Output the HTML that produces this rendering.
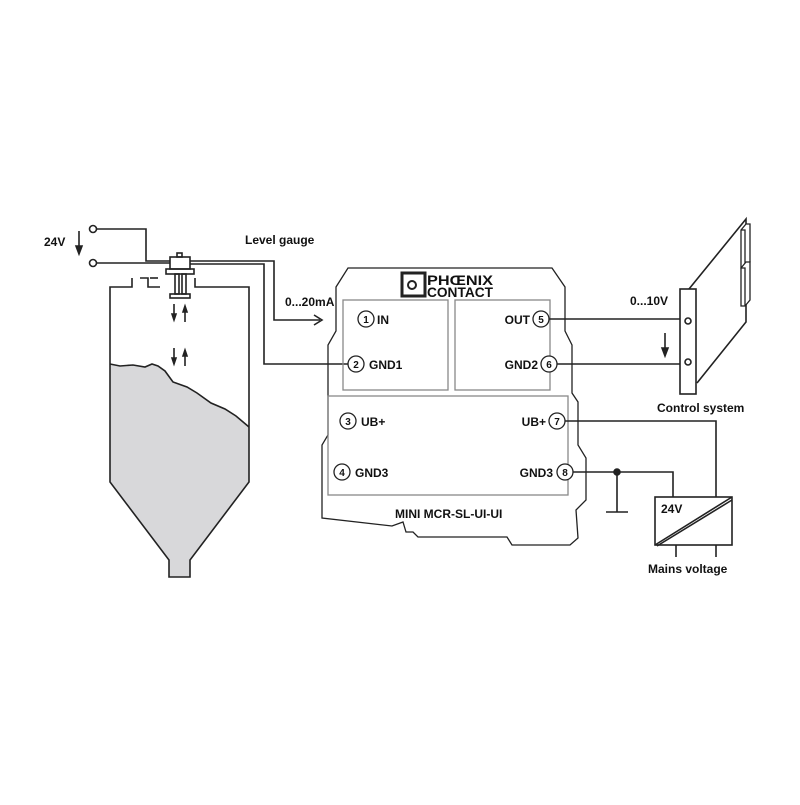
<!DOCTYPE html>
<html><head><style>
body{margin:0;background:#fff}
text{font-family:"Liberation Sans",Arial,sans-serif;font-weight:bold;fill:#111}
</style></head><body>
<svg width="800" height="800" viewBox="0 0 800 800" xmlns="http://www.w3.org/2000/svg">
<rect width="800" height="800" fill="#fff"/>
<g stroke="#222" stroke-width="1.6" fill="none">
<!-- 24V terminals -->
<circle cx="93" cy="229" r="3.5" fill="#fff"/>
<circle cx="93" cy="263" r="3.5" fill="#fff"/>
<path d="M97,229 H146 V261 H170"/>
<path d="M97,263 H170"/>
<path d="M79,231 V252"/><path d="M76,246 L79,254 L82,246 Z" fill="#222"/>
<!-- sensor -->
<rect x="170" y="257" width="20" height="12" fill="#fff"/>
<rect x="177" y="253" width="5" height="4"/>
<rect x="166" y="269" width="28" height="5"/>
<rect x="175" y="274" width="4" height="20"/><rect x="182" y="274" width="4" height="20"/>
<rect x="170" y="294" width="20" height="4"/>
<path d="M190,261 H274 V320 H320"/>
<path d="M190,264 H264 V364 H348"/>
<path d="M314,315 L322,320 L314,325"/>
<!-- tank -->
<path d="M110,364 L120,366 L133,365 L145,367 L152,364 L158,366 L165,371 L173,382 L187,387 L197,393 L211,403 L225,409 L236,416 L249,427 V482 L190,560 V577 H169 V560 L110,482 Z" fill="#d8d8da" stroke="none"/>
<path d="M110,364 L120,366 L133,365 L145,367 L152,364 L158,366 L165,371 L173,382 L187,387 L197,393 L211,403 L225,409 L236,416 L249,427"/>
<path d="M132,278 V287 H110 V482 L169,560 V577 H190 V560 L249,482 V287 H195 V278"/>
<path d="M140,278 H148 V287 H160"/>
<path d="M150,278 H158"/>
<!-- arrows in tank -->
<path d="M174,304 V318 M185,322 V308 M174,348 V362 M185,366 V352"/>
<path d="M172,314 L174,320 L176,314 Z M183,312 L185,306 L187,312 Z M172,358 L174,364 L176,358 Z M183,356 L185,350 L187,356 Z" fill="#222"/>
<!-- module -->
<path d="M336,287 L348,268 L552,268 L565,287 V331 L572,345 V393 L578,402 V445 L586,458 V500 L576,510 L578,538 L570,545 L512,545 L507,537 L418,537 L413,532 L406,532 L403,522 L392,526 L322,518 V445 L328,435 V345 L336,331 Z" stroke-width="1.3"/>
<rect x="343" y="300" width="105" height="90" stroke="#888" stroke-width="1.3"/>
<rect x="455" y="300" width="95" height="90" stroke="#888" stroke-width="1.3"/>
<rect x="328" y="396" width="240" height="99" stroke="#888" stroke-width="1.3"/>
<g fill="#fff" stroke-width="1.3">
<circle cx="366" cy="319" r="8"/><circle cx="356" cy="364" r="8"/>
<circle cx="348" cy="421" r="8"/><circle cx="342" cy="472" r="8"/>
<circle cx="541" cy="319" r="8"/><circle cx="549" cy="364" r="8"/>
<circle cx="557" cy="421" r="8"/><circle cx="565" cy="472" r="8"/>
</g>
<!-- logo -->
<rect x="402" y="273" width="23" height="23" stroke-width="3"/>
<circle cx="412" cy="285" r="4" stroke-width="2"/>
<!-- right wiring -->
<path d="M549,319 H680"/>
<path d="M557,364 H680"/>
<path d="M665,333 V350"/><path d="M662,348 L665,356 L668,348 Z" fill="#222"/>
<path d="M565,421 H716 V497"/>
<path d="M573,472 H673 V497"/>
<circle cx="617" cy="472" r="3" fill="#222"/>
<path d="M617,472 V512 M606,512 H628"/>
<!-- power supply -->
<rect x="655" y="497" width="77" height="48" fill="#fff"/>
<path d="M655,545 L732,497 M657,546 L732,500"/>
<path d="M676,545 V557 M716,545 V557"/>
<!-- card -->
<path d="M689,289 L746,219 V322 L697,383" />
<path d="M741,230 L746,224 H750 V262 L745,268 H741 Z M741,230 H745 V268" fill="#fff" stroke-width="1.3"/>
<path d="M741,268 L746,262 H750 V300 L745,306 H741 Z M741,268 H745 V306" fill="#fff" stroke-width="1.3"/>
<rect x="680" y="289" width="16" height="105" fill="#fff"/>
<circle cx="688" cy="321" r="3"/><circle cx="688" cy="362" r="3"/>
</g>
<text x="427" y="285" font-size="14" textLength="66" lengthAdjust="spacingAndGlyphs">PHŒNIX</text>
<text x="427" y="297" font-size="14" textLength="66" lengthAdjust="spacingAndGlyphs">CONTACT</text>
<g font-size="10" text-anchor="middle">
<text x="366" y="323">1</text><text x="356" y="368">2</text><text x="348" y="425">3</text><text x="342" y="476">4</text>
<text x="541" y="323">5</text><text x="549" y="368">6</text><text x="557" y="425">7</text><text x="565" y="476">8</text>
</g>
<g font-size="12">
<text x="377" y="324">IN</text>
<text x="369" y="369">GND1</text>
<text x="361" y="426">UB+</text>
<text x="355" y="477">GND3</text>
<text x="530" y="324" text-anchor="end">OUT</text>
<text x="538" y="369" text-anchor="end">GND2</text>
<text x="546" y="426" text-anchor="end">UB+</text>
<text x="553" y="477" text-anchor="end">GND3</text>
<text x="395" y="518">MINI MCR-SL-UI-UI</text>
<text x="44" y="246">24V</text>
<text x="245" y="244">Level gauge</text>
<text x="285" y="306">0...20mA</text>
<text x="630" y="305">0...10V</text>
<text x="657" y="412">Control system</text>
<text x="661" y="513">24V</text>
<text x="648" y="573">Mains voltage</text>
</g>
</svg>
</body></html>
